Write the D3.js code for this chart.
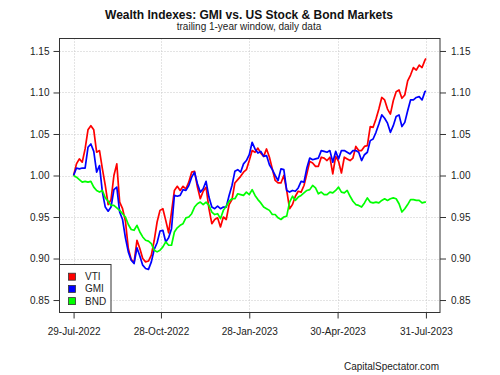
<!DOCTYPE html>
<html>
<head>
    <title>Wealth Indexes</title>
    <script src="https://cdn.jsdelivr.net/npm/d3@7"></script>
    <style>
        body {
            margin: 0;
            background: #fff;
            font-family: "Liberation Sans", Arial, sans-serif;
        }
        .tick text {
            font-size: 10px;
            fill: #222;
        }
    </style>
</head>
<body>
    <svg width="500" height="375" id="mainsvg" style="display: block;"></svg>
    <script>
        // every third calendar day, 29-Jul-2022 .. 31-Jul-2023
        const dates = [
            '2022-07-29','2022-08-01','2022-08-04','2022-08-07','2022-08-10','2022-08-13','2022-08-16','2022-08-19',
            '2022-08-22','2022-08-25','2022-08-28','2022-08-31','2022-09-03','2022-09-06','2022-09-09','2022-09-12',
            '2022-09-15','2022-09-18','2022-09-21','2022-09-24','2022-09-27','2022-09-30','2022-10-03','2022-10-06',
            '2022-10-09','2022-10-12','2022-10-15','2022-10-18','2022-10-21','2022-10-24','2022-10-27','2022-10-30',
            '2022-11-02','2022-11-05','2022-11-08','2022-11-11','2022-11-14','2022-11-17','2022-11-20','2022-11-23',
            '2022-11-26','2022-11-29','2022-12-02','2022-12-05','2022-12-08','2022-12-11','2022-12-14','2022-12-17',
            '2022-12-20','2022-12-23','2022-12-26','2022-12-29','2023-01-01','2023-01-04','2023-01-07','2023-01-10',
            '2023-01-13','2023-01-16','2023-01-19','2023-01-22','2023-01-25','2023-01-28','2023-01-31','2023-02-03',
            '2023-02-06','2023-02-09','2023-02-12','2023-02-15','2023-02-18','2023-02-21','2023-02-24','2023-02-27',
            '2023-03-02','2023-03-05','2023-03-08','2023-03-11','2023-03-14','2023-03-17','2023-03-20','2023-03-23',
            '2023-03-26','2023-03-29','2023-04-01','2023-04-04','2023-04-07','2023-04-10','2023-04-13','2023-04-16',
            '2023-04-19','2023-04-22','2023-04-25','2023-04-28','2023-05-01','2023-05-04','2023-05-07','2023-05-10',
            '2023-05-13','2023-05-16','2023-05-19','2023-05-22','2023-05-25','2023-05-28','2023-05-31','2023-06-03',
            '2023-06-06','2023-06-09','2023-06-12','2023-06-15','2023-06-18','2023-06-21','2023-06-24','2023-06-27',
            '2023-06-30','2023-07-03','2023-07-06','2023-07-09','2023-07-12','2023-07-15','2023-07-18','2023-07-21',
            '2023-07-24','2023-07-27','2023-07-30','2023-07-31'
        ];

        const vti = [
            1.000,1.014,1.020,1.016,1.032,1.055,1.060,1.055,1.028,1.030,1.008,0.988,0.965,0.971,1.000,1.014,
            0.968,0.960,0.945,0.912,0.899,0.895,0.922,0.912,0.900,0.896,0.897,0.904,0.922,0.944,0.958,0.960,
            0.946,0.931,0.956,0.982,0.987,0.982,0.987,0.984,0.992,1.004,1.005,0.986,0.972,0.981,0.986,0.960,
            0.942,0.947,0.949,0.938,0.950,0.947,0.965,0.971,0.991,0.995,0.999,1.004,1.007,1.018,1.030,1.028,
            1.033,1.027,1.023,1.032,1.022,1.008,0.994,0.991,0.991,1.000,0.982,0.960,0.965,0.975,0.981,0.980,
            0.988,1.002,1.017,1.015,1.011,1.011,1.022,1.021,1.018,1.022,1.002,1.023,1.017,1.003,1.022,1.020,
            1.018,1.021,1.035,1.030,1.030,1.035,1.036,1.059,1.058,1.068,1.080,1.094,1.091,1.080,1.074,1.090,
            1.101,1.103,1.093,1.097,1.114,1.121,1.130,1.127,1.133,1.130,1.139,1.141
        ];

        const gmi = [
            1.000,1.009,1.008,1.009,1.009,1.034,1.038,1.029,1.004,1.012,0.980,0.962,0.957,0.962,0.983,0.986,
            0.956,0.947,0.925,0.908,0.898,0.894,0.913,0.903,0.892,0.888,0.887,0.896,0.911,0.919,0.933,0.934,
            0.920,0.925,0.936,0.976,0.975,0.976,0.983,0.982,0.988,0.998,1.004,0.990,0.980,0.984,0.993,0.974,
            0.962,0.960,0.963,0.960,0.962,0.962,0.976,0.988,1.005,1.007,1.004,1.014,1.018,1.025,1.040,1.032,
            1.027,1.029,1.023,1.024,1.013,1.007,1.000,0.994,1.008,1.007,0.982,0.980,0.982,0.981,0.985,0.993,
            0.992,1.009,1.021,1.019,1.020,1.021,1.030,1.029,1.028,1.030,1.016,1.029,1.020,1.030,1.030,1.028,
            1.026,1.030,1.030,1.028,1.018,1.025,1.028,1.042,1.044,1.052,1.062,1.073,1.069,1.063,1.052,1.060,
            1.071,1.073,1.059,1.064,1.078,1.091,1.091,1.094,1.095,1.091,1.101,1.102
        ];

        const bnd = [
            1.000,0.998,0.995,0.992,0.993,0.992,0.993,0.986,0.982,0.980,0.982,0.973,0.969,0.964,0.964,0.961,
            0.958,0.954,0.950,0.941,0.935,0.934,0.940,0.932,0.926,0.922,0.921,0.918,0.910,0.908,0.910,0.914,
            0.920,0.916,0.916,0.932,0.937,0.940,0.942,0.949,0.950,0.954,0.962,0.966,0.968,0.965,0.968,0.964,
            0.956,0.953,0.954,0.948,0.958,0.963,0.969,0.972,0.972,0.978,0.977,0.976,0.980,0.977,0.983,0.976,
            0.971,0.967,0.962,0.960,0.958,0.953,0.953,0.949,0.947,0.950,0.951,0.968,0.975,0.970,0.974,0.976,
            0.979,0.982,0.983,0.988,0.985,0.978,0.980,0.977,0.977,0.980,0.979,0.982,0.986,0.980,0.979,0.982,
            0.975,0.969,0.965,0.964,0.962,0.967,0.973,0.968,0.967,0.968,0.967,0.970,0.972,0.970,0.972,0.973,
            0.972,0.966,0.956,0.960,0.965,0.971,0.971,0.970,0.970,0.967,0.968,0.968
        ];

        const seriesNames = ['VTI', 'GMI', 'BND'];
        const seriesColors = ['#ff0000', '#0000ff', '#00ff00'];
        const xTickDates = ['2022-07-29', '2022-10-28', '2023-01-28', '2023-04-30', '2023-07-31'];
        const yTicks = [0.85, 0.90, 0.95, 1.00, 1.05, 1.10, 1.15];

        const parse = d3.timeParse('%Y-%m-%d');
        const dateObjs = dates.map(parse);
        const allSeries = [vti, gmi, bnd];

        const svg = d3.select('#mainsvg');
        const plot = { left: 59.5, right: 440, top: 38.5, bottom: 312.5 };

        // R-style 4% padding on the time range
        const ext = d3.extent(dateObjs);
        const pad = (ext[1] - ext[0]) * 0.04;
        const x = d3.scaleTime()
            .domain([new Date(+ext[0] - pad), new Date(+ext[1] + pad)])
            .range([plot.left, plot.right]);
        const y = d3.scaleLinear()
            .domain([0.835, 1.165])
            .range([plot.bottom, plot.top]);

        // grid
        const grid = svg.append('g')
            .attr('stroke', '#c8c8c8')
            .attr('stroke-width', 1)
            .attr('stroke-dasharray', '1,2');
        grid.selectAll('.hg')
            .data(yTicks)
            .enter()
            .append('line')
                .attr('x1', plot.left)
                .attr('x2', plot.right)
                .attr('y1', d => Math.round(y(d)) + 0.5)
                .attr('y2', d => Math.round(y(d)) + 0.5);
        grid.selectAll('.vg')
            .data(xTickDates.map(parse))
            .enter()
            .append('line')
                .attr('y1', plot.top)
                .attr('y2', plot.bottom)
                .attr('x1', d => Math.round(x(d)) + 0.5)
                .attr('x2', d => Math.round(x(d)) + 0.5);

        // lines
        const line = d3.line()
            .x((d, i) => x(dateObjs[i]))
            .y(d => y(d));
        allSeries.forEach((s, k) => {
            svg.append('path')
                .datum(s)
                .attr('fill', 'none')
                .attr('stroke', seriesColors[k])
                .attr('stroke-width', 1.7)
                .attr('stroke-linejoin', 'round')
                .attr('d', line);
        });

        // axes
        const fmtY = d3.format('.2f');
        const leftAxis = svg.append('g')
            .attr('transform', `translate(${plot.left}, 0)`)
            .call(d3.axisLeft(y).tickValues(yTicks).tickFormat(fmtY).tickSize(6).tickPadding(4));
        const rightAxis = svg.append('g')
            .attr('transform', `translate(${plot.right}, 0)`)
            .call(d3.axisRight(y).tickValues(yTicks).tickFormat(fmtY).tickSize(6).tickPadding(5));
        const bottomAxis = svg.append('g')
            .attr('transform', `translate(0, ${plot.bottom})`)
            .call(d3.axisBottom(x).tickValues(xTickDates.map(parse))
                .tickFormat(d3.timeFormat('%d-%b-%Y')).tickSize(6).tickPadding(9));
        [leftAxis, rightAxis, bottomAxis].forEach(a => {
            a.select('.domain').remove();
            a.selectAll('line').attr('stroke', '#333');
            a.attr('font-family', null);
        });

        // box
        svg.append('rect')
            .attr('x', plot.left)
            .attr('y', plot.top)
            .attr('width', plot.right - plot.left)
            .attr('height', plot.bottom - plot.top)
            .attr('fill', 'none')
            .attr('stroke', '#333')
            .attr('stroke-width', 1);

        // legend
        const lg = svg.append('g');
        lg.append('rect')
            .attr('x', plot.left)
            .attr('y', 264.5)
            .attr('width', 51.5)
            .attr('height', plot.bottom - 264.5)
            .attr('fill', '#fff')
            .attr('stroke', '#333');
        seriesNames.forEach((name, k) => {
            const cy = 276.7 + k * 12.2;
            lg.append('rect')
                .attr('x', 68.5)
                .attr('y', cy - 3.5)
                .attr('width', 7)
                .attr('height', 7)
                .attr('fill', seriesColors[k])
                .attr('stroke', '#333')
                .attr('stroke-width', 0.8);
            lg.append('text')
                .attr('x', 85)
                .attr('y', cy)
                .attr('dy', '0.35em')
                .attr('font-size', 10)
                .attr('fill', '#222')
                .text(name);
        });

        // titles
        svg.append('text')
            .attr('x', 249)
            .attr('y', 19)
            .attr('text-anchor', 'middle')
            .attr('font-size', 12)
            .attr('font-weight', 'bold')
            .attr('fill', '#111')
            .text('Wealth Indexes: GMI vs. US Stock & Bond Markets');
        svg.append('text')
            .attr('x', 249)
            .attr('y', 29.5)
            .attr('text-anchor', 'middle')
            .attr('font-size', 10)
            .attr('fill', '#222')
            .text('trailing 1-year window, daily data');
        svg.append('text')
            .attr('x', 439)
            .attr('y', 370)
            .attr('text-anchor', 'end')
            .attr('font-size', 10)
            .attr('fill', '#222')
            .text('CapitalSpectator.com');
    </script>
</body>
</html>
